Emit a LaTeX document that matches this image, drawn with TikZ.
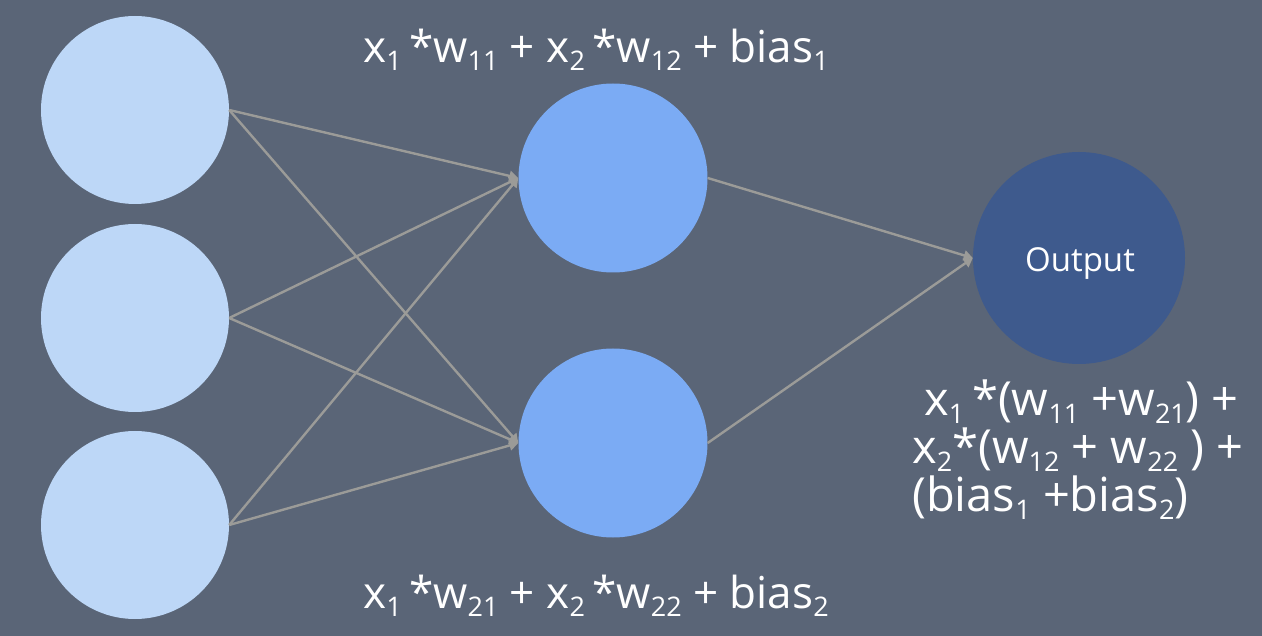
\documentclass[tikz,border=0pt]{standalone}
\usepackage{fontspec}
\setmainfont{Open Sans}
\usetikzlibrary{arrows.meta}
\definecolor{bgc}{HTML}{5A6577}
\definecolor{inc}{HTML}{BDD7F7}
\definecolor{hidc}{HTML}{7BABF4}
\definecolor{outc}{HTML}{3E5A8D}
\definecolor{edgec}{HTML}{9B9B98}
\newcommand{\lsub}[1]{\raisebox{-8pt}{\fontsize{27}{27}\selectfont #1}}
\begin{document}
\begin{tikzpicture}[x=1pt,y=-1pt,
  neuron/.style={circle,draw=none,minimum size=188pt,inner sep=0pt},
  conn/.style={draw=edgec,line width=2.4pt,-{Triangle[length=9pt,width=10pt]}},
  lbl/.style={text=white,font=\fontsize{44}{50}\selectfont,anchor=base,inner sep=0pt}]
\fill[bgc] (0,0) rectangle (1262,636);
\useasboundingbox (0,0) rectangle (1262,636);
\node[neuron,fill=inc] (i1) at (135,110) {};
\node[neuron,fill=inc] (i2) at (135,318) {};
\node[neuron,fill=inc] (i3) at (135,525) {};
\node[neuron,fill=hidc,minimum size=189pt] (h1) at (613,178) {};
\node[neuron,fill=hidc,minimum size=189pt] (h2) at (613,443) {};
\node[neuron,fill=outc,minimum size=212pt] (o) at (1079,258) {};
\node[text=white,font=\fontsize{33}{34}\selectfont,inner sep=0pt] (ol) at (1080,264) {Output};
\foreach \i in {i1,i2,i3}{
  \foreach \h in {h1,h2}{
    \draw[conn] (\i.east) -- (\h.west);
  }
}
\draw[conn] (h1.east) -- (o.west);
\draw[conn] (h2.east) -- (o.west);
\node[lbl] (t1) at (596,63) {x\lsub{1}\,*w\lsub{11} + x\lsub{2}\,*w\lsub{12} + bias\lsub{1}};
\node[lbl] (t2) at (596,608) {x\lsub{1}\,*w\lsub{21} + x\lsub{2}\,*w\lsub{22} + bias\lsub{2}};
\node[text=white,font=\fontsize{47}{48}\selectfont,align=left,anchor=north west,inner sep=0pt] (t3) at (912,380)
 {\hspace*{12pt}x\lsub{1}\,*(w\lsub{11} +w\lsub{21}) +\\x\lsub{2}*(w\lsub{12} + w\lsub{22} ) +\\(bias\lsub{1} +bias\lsub{2})};
\end{tikzpicture}
\end{document}
